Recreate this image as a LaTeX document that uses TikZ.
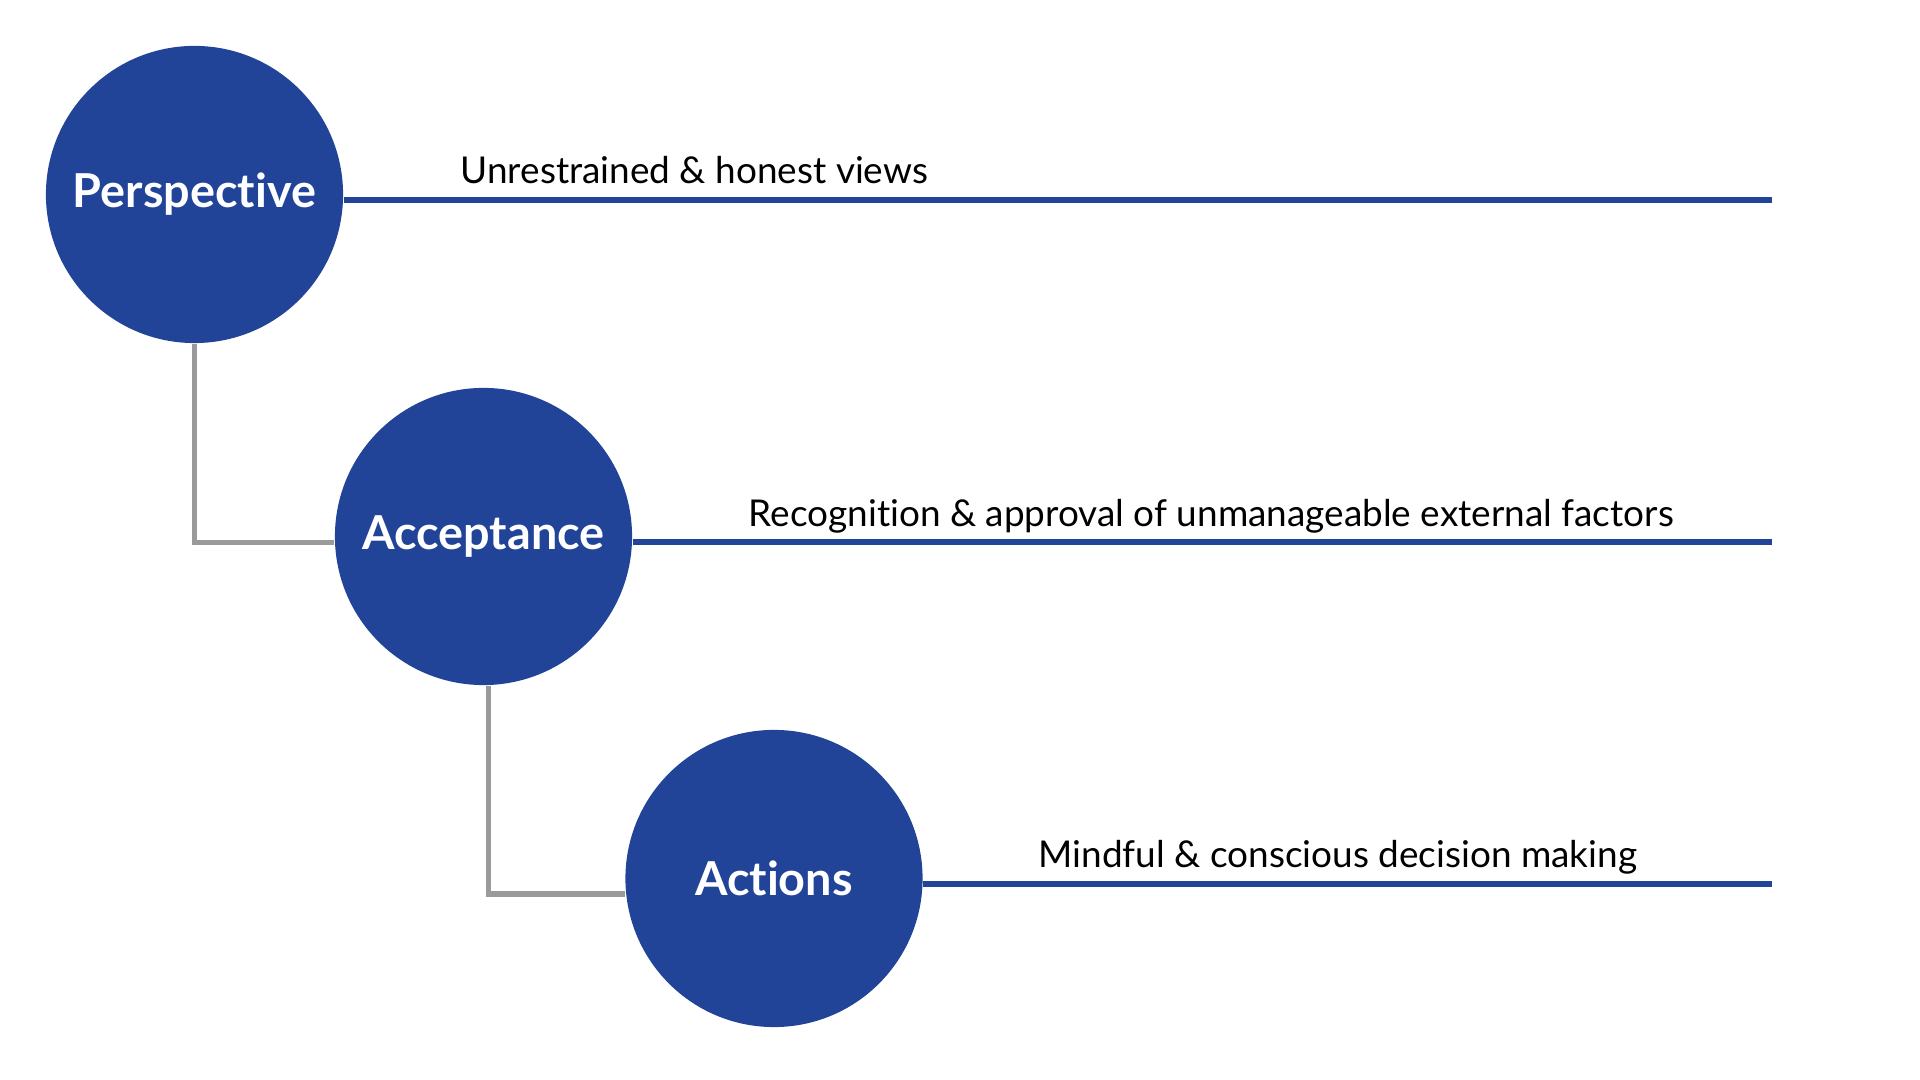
\documentclass[tikz,border=0pt]{standalone}
\usepackage{fontspec}
\setmainfont{Lato}[Ligatures=NoCommon]
\usetikzlibrary{positioning}

\definecolor{stageblue}{RGB}{33,68,153}
\definecolor{linkgray}{RGB}{154,154,156}

\tikzset{
  stage/.style={circle,fill=stageblue,minimum size=2.97cm,inner sep=0pt,
    text=white,font=\fontsize{13.3}{15}\selectfont\bfseries},
  bluebar/.style={draw=stageblue,line width=0.06cm},
  graybar/.style={draw=linkgray,line width=0.05cm},
  note/.style={anchor=base west,inner sep=0pt,font=\fontsize{10.5}{13}\selectfont}
}

\begin{document}
\begin{tikzpicture}[x=0.01cm,y=-0.01cm]
  \useasboundingbox (0,0) rectangle (1920,1080);
  % Kreise
  \node[stage] (persp)  at (194.5,194.5) {Perspective};
  \node[stage] (accept) at (483.5,536.5) {Acceptance};
  \node[stage] (action) at (774,878.5)   {Actions};
  % Linienenden
  \coordinate (pend)   at (1772,200);
  \coordinate (aend)   at (1772,542);
  \coordinate (actend) at (1772,884);
  \draw[bluebar] (persp.east |- pend) -- (pend);
  \draw[bluebar] (accept.east |- aend) -- (aend);
  \draw[bluebar] (action.east |- actend) -- (actend);
  % Verbindungen
  \draw[graybar] (persp.south) |- ([yshift=-0.065cm]accept.west);
  \draw[graybar] ([xshift=0.045cm]accept.south) |- ([yshift=-0.155cm]action.west);
  % Texte
  \node[note] (pnote)   at (460,184) {Unrestrained \& honest views};
  \node[note] (anote)   at (748,527) {Recognition \& approval of unmanageable external factors};
  \node[note] (actnote) at (1038,868) {Mindful \& conscious decision making};
\end{tikzpicture}
\end{document}
